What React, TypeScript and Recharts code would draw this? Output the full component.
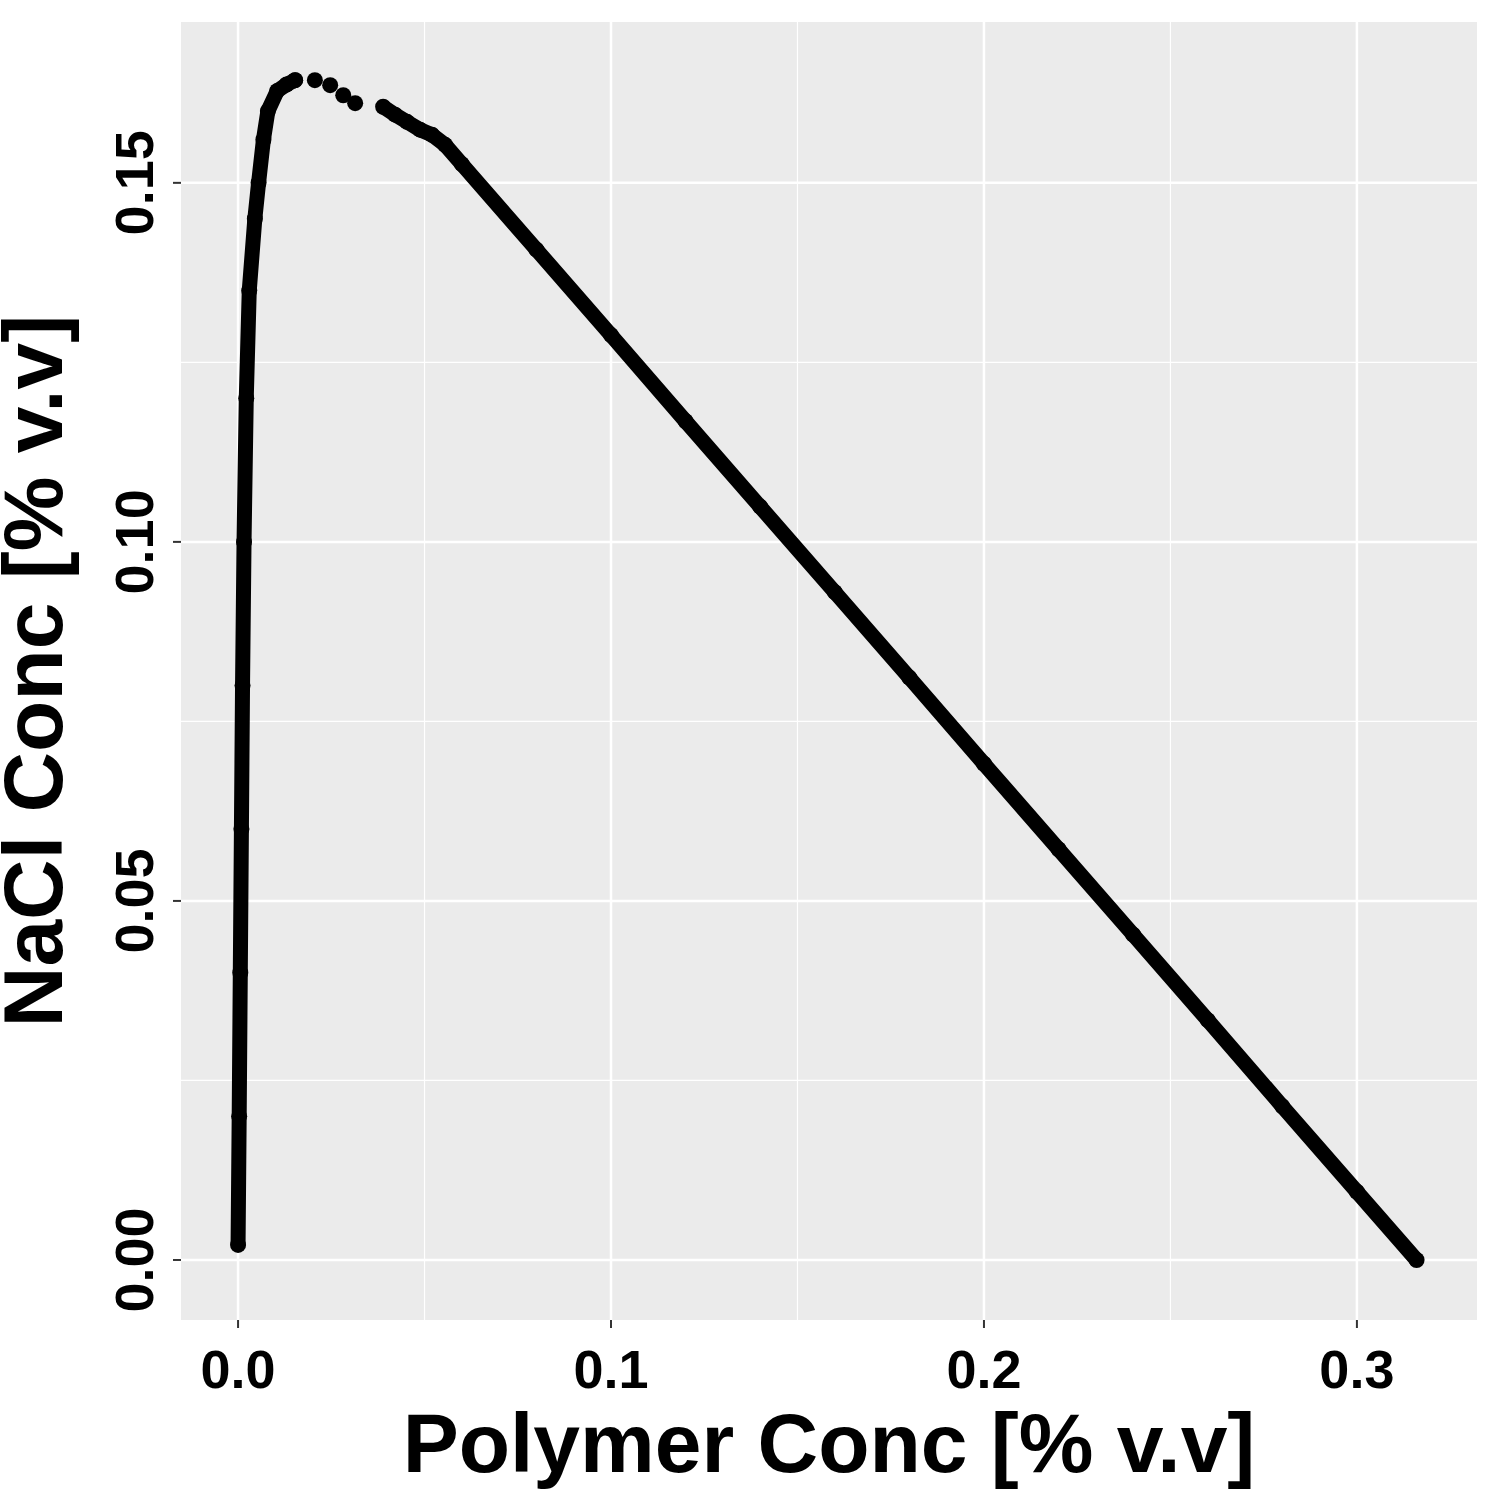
import React from "react";
import { ScatterChart, Scatter, XAxis, YAxis, CartesianGrid, ReferenceLine } from "recharts";

const risePoly = [0.0, 0.0003, 0.0006, 0.0009, 0.0012, 0.0016, 0.0022, 0.003, 0.0045, 0.0055, 0.0068, 0.008, 0.0105, 0.013, 0.0153];
const riseNaCl = [0.0021, 0.02, 0.04, 0.06, 0.08, 0.10, 0.12, 0.135, 0.145, 0.15, 0.156, 0.16, 0.1628, 0.1637, 0.1643];
const arcPoly = [0.0153, 0.0206, 0.0247, 0.0282, 0.0314];
const arcNaCl = [0.1643, 0.1643, 0.1636, 0.1622, 0.1611];
const fallPoly = [0.0389, 0.0421, 0.0453, 0.0488, 0.052, 0.0555, 0.06, 0.08, 0.10, 0.12, 0.14, 0.16, 0.18, 0.20, 0.22, 0.24, 0.26, 0.28, 0.30, 0.316];
const fallNaCl = [0.1606, 0.1595, 0.1585, 0.1574, 0.1567, 0.1553, 0.1526, 0.1407, 0.1288, 0.1168, 0.1049, 0.093, 0.0811, 0.0691, 0.0572, 0.0453, 0.0334, 0.0214, 0.0095, 0.0];
const xTicks = [0, 0.1, 0.2, 0.3];
const yTicks = [0, 0.05, 0.1, 0.15];
const xMinor = [0.05, 0.15, 0.25];
const yMinor = [0.025, 0.075, 0.125];

const zip = (a: number[], b: number[]) => a.map((x, i) => ({ x, y: b[i] }));
const FONT = "'Liberation Sans', Arial, sans-serif";
const dot = (p: any) => <circle cx={p.cx} cy={p.cy} r={8} fill="#000" />;

const YTick = (p: any) => (
  <text x={0} y={0} transform={`translate(${p.x - 18},${p.y}) rotate(-90)`} textAnchor="middle"
    fontFamily={FONT} fontWeight="bold" fontSize={54} fill="#000">
    {Number(p.payload.value).toFixed(2)}
  </text>
);
const XTick = (p: any) => (
  <text x={p.x} y={p.y + 58} textAnchor="middle" fontFamily={FONT} fontWeight="bold" fontSize={54} fill="#000">
    {Number(p.payload.value).toFixed(1)}
  </text>
);

export default function App() {
  return (
    <div style={{ position: "absolute", left: 0, top: 0, width: 1500, height: 1500, background: "#fff" }}>
      <ScatterChart width={1500} height={1500} margin={{ top: 22, right: 23, left: 0, bottom: 0 }}>
        <CartesianGrid fill="#EBEBEB" stroke="#fff" strokeWidth={2.5} horizontalValues={yTicks} verticalValues={xTicks} />
        {xMinor.map((v) => <ReferenceLine key={"x" + v} x={v} stroke="#fff" strokeWidth={1.2} />)}
        {yMinor.map((v) => <ReferenceLine key={"y" + v} y={v} stroke="#fff" strokeWidth={1.2} />)}
        <XAxis type="number" dataKey="x" domain={[-0.0153, 0.3322]} ticks={xTicks} allowDataOverflow height={180}
          axisLine={false} tickLine={{ stroke: "#333", strokeWidth: 2 }} tickSize={8} tick={<XTick />}
          label={{ value: "Polymer Conc [% v.v]", position: "insideBottom", offset: 28, style: { fontFamily: FONT, fontWeight: "bold", fontSize: 84, fill: "#000" } }} />
        <YAxis type="number" dataKey="y" domain={[-0.00836, 0.1724]} ticks={yTicks} allowDataOverflow width={181}
          axisLine={false} tickLine={{ stroke: "#333", strokeWidth: 2 }} tickSize={8} tick={<YTick />}
          label={{ value: "NaCl Conc [% v.v]", angle: -90, position: "insideLeft", offset: 32, style: { textAnchor: "middle", fontFamily: FONT, fontWeight: "bold", fontSize: 84, fill: "#000" } }} />
        <Scatter data={zip(risePoly, riseNaCl)} line={{ stroke: "#000", strokeWidth: 15 }} shape={dot} isAnimationActive={false} />
        <Scatter data={zip(arcPoly, arcNaCl)} shape={dot} isAnimationActive={false} />
        <Scatter data={zip(fallPoly, fallNaCl)} line={{ stroke: "#000", strokeWidth: 15 }} shape={dot} isAnimationActive={false} />
      </ScatterChart>
    </div>
  );
}
